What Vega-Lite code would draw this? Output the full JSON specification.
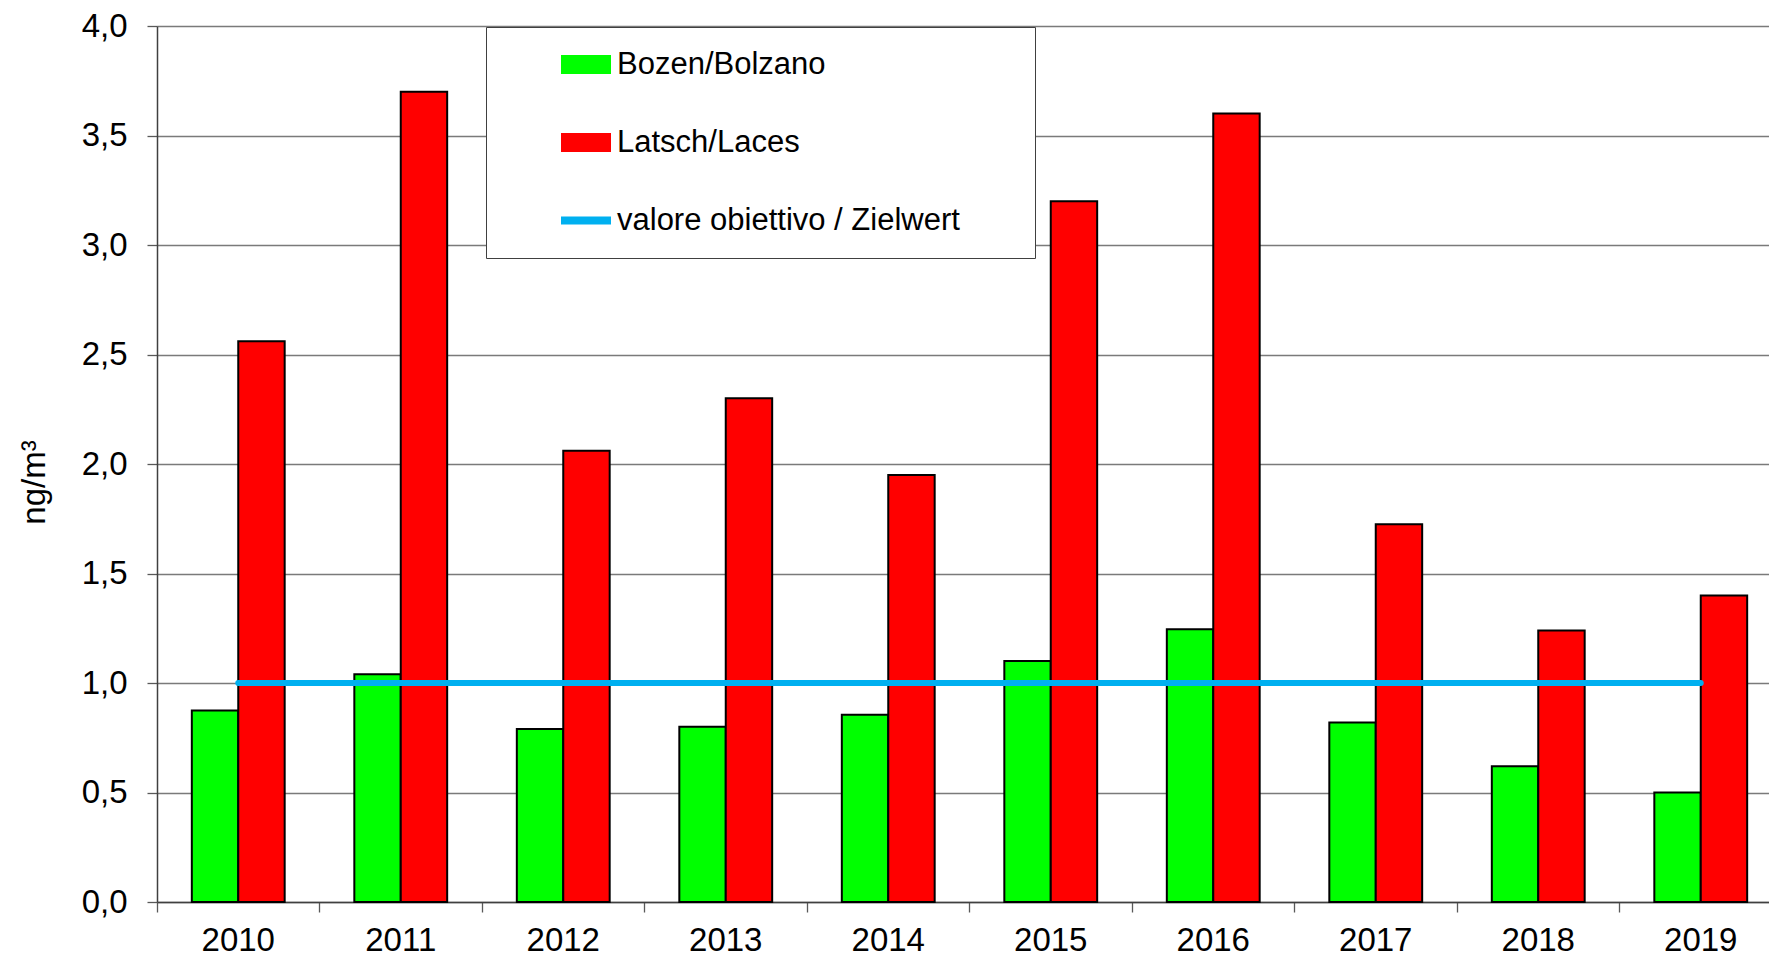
{
  "$schema": "https://vega.github.io/schema/vega-lite/v6.json",
  "width": 1625,
  "height": 876,
  "autosize": {"type": "none"},
  "padding": {"left": 157, "top": 26, "right": -13, "bottom": 54},
  "background": "white",
  "config": {"view": {"stroke": null}, "font": "Liberation Sans"},
  "datasets": {
    "bars": [
      {"year": "2010", "series": "Bozen/Bolzano", "value": 0.875},
      {"year": "2010", "series": "Latsch/Laces", "value": 2.56},
      {"year": "2011", "series": "Bozen/Bolzano", "value": 1.04},
      {"year": "2011", "series": "Latsch/Laces", "value": 3.70},
      {"year": "2012", "series": "Bozen/Bolzano", "value": 0.79},
      {"year": "2012", "series": "Latsch/Laces", "value": 2.06},
      {"year": "2013", "series": "Bozen/Bolzano", "value": 0.80},
      {"year": "2013", "series": "Latsch/Laces", "value": 2.30},
      {"year": "2014", "series": "Bozen/Bolzano", "value": 0.855},
      {"year": "2014", "series": "Latsch/Laces", "value": 1.95},
      {"year": "2015", "series": "Bozen/Bolzano", "value": 1.10},
      {"year": "2015", "series": "Latsch/Laces", "value": 3.20},
      {"year": "2016", "series": "Bozen/Bolzano", "value": 1.245},
      {"year": "2016", "series": "Latsch/Laces", "value": 3.60},
      {"year": "2017", "series": "Bozen/Bolzano", "value": 0.82},
      {"year": "2017", "series": "Latsch/Laces", "value": 1.725},
      {"year": "2018", "series": "Bozen/Bolzano", "value": 0.62},
      {"year": "2018", "series": "Latsch/Laces", "value": 1.24},
      {"year": "2019", "series": "Bozen/Bolzano", "value": 0.50},
      {"year": "2019", "series": "Latsch/Laces", "value": 1.40}
    ],
    "target": [
      {"year": "2010", "series": "valore obiettivo / Zielwert", "value": 1},
      {"year": "2011", "series": "valore obiettivo / Zielwert", "value": 1},
      {"year": "2012", "series": "valore obiettivo / Zielwert", "value": 1},
      {"year": "2013", "series": "valore obiettivo / Zielwert", "value": 1},
      {"year": "2014", "series": "valore obiettivo / Zielwert", "value": 1},
      {"year": "2015", "series": "valore obiettivo / Zielwert", "value": 1},
      {"year": "2016", "series": "valore obiettivo / Zielwert", "value": 1},
      {"year": "2017", "series": "valore obiettivo / Zielwert", "value": 1},
      {"year": "2018", "series": "valore obiettivo / Zielwert", "value": 1},
      {"year": "2019", "series": "valore obiettivo / Zielwert", "value": 1}
    ]
  },
  "encoding": {
    "x": {
      "field": "year",
      "type": "nominal",
      "scale": {"paddingInner": 0, "paddingOuter": 0},
      "axis": {
        "title": null,
        "labelAngle": 0,
        "bandPosition": 0,
        "labelFontSize": 33,
        "labelColor": "black",
        "labelPadding": 12,
        "tickSize": 10,
        "tickColor": "#595959",
        "tickWidth": 1.3,
        "domainColor": "#404040",
        "domainWidth": 1.5,
        "grid": false
      }
    },
    "y": {
      "field": "value",
      "type": "quantitative",
      "scale": {"domain": [0, 4], "nice": false},
      "axis": {
        "title": "ng/m³",
        "titleFontSize": 33,
        "titleFontWeight": "normal",
        "titleColor": "black",
        "titlePadding": 30,
        "titleY": 456,
        "values": [0, 0.5, 1, 1.5, 2, 2.5, 3, 3.5, 4],
        "labelExpr": "replace(format(datum.value, '.1f'), '.', ',')",
        "labelFontSize": 33,
        "labelColor": "black",
        "labelPadding": 20,
        "tickSize": 10,
        "tickColor": "#595959",
        "tickWidth": 1.3,
        "domainColor": "#404040",
        "domainWidth": 1.5,
        "grid": true,
        "gridColor": "#7a7a7a",
        "gridWidth": 1.5
      }
    }
  },
  "layer": [
    {
      "data": {"name": "bars"},
      "mark": {"type": "bar", "stroke": "black", "strokeWidth": 2},
      "encoding": {
        "xOffset": {
          "field": "series",
          "type": "nominal",
          "scale": {"paddingInner": 0, "paddingOuter": 0.75}
        },
        "color": {
          "field": "series",
          "type": "nominal",
          "scale": {
            "domain": ["Bozen/Bolzano", "Latsch/Laces", "valore obiettivo / Zielwert"],
            "range": ["#00FF00", "#FF0000", "#00B0F0"]
          },
          "legend": {
            "orient": "none",
            "legendX": 329,
            "legendY": 1,
            "title": null,
            "padding": 22,
            "rowPadding": 46,
            "clipHeight": 31,
            "strokeColor": "#404040",
            "fillColor": "white",
            "symbolSize": 2304,
            "symbolOffset": 53,
            "labelOffset": 6,
            "labelFontSize": 31,
            "labelColor": "black",
            "labelLimit": 1000,
            "labelExpr": "datum.label + '\u2003\u2002\u2009\u200b'",
            "symbolType": {"expr": "datum.value === 'valore obiettivo / Zielwert' ? 'M-1,-0.12H1V0.12H-1Z' : 'M-1,-0.35H1V0.35H-1Z'"},
            "symbolStrokeColor": {"expr": "datum.value === 'valore obiettivo / Zielwert' ? null : 'black'"},
            "symbolStrokeWidth": 2,
            "symbolOpacity": 1
          }
        }
      }
    },
    {
      "data": {"name": "target"},
      "mark": {"type": "line", "strokeWidth": 6, "strokeCap": "round"},
      "encoding": {
        "color": {"field": "series", "type": "nominal"}
      }
    }
  ]
}
